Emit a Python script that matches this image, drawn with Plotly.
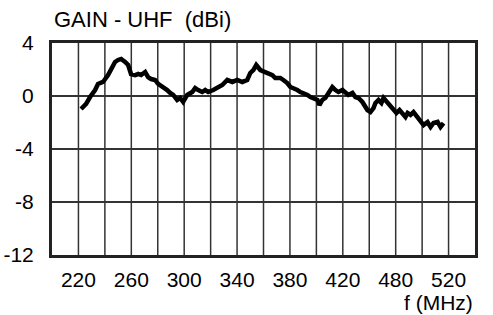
import plotly.graph_objects as go

# Data (frequency in MHz on the grid scale, gain in dBi)
freq_mhz = [222.0, 225.8, 228.8, 232.6, 234.8, 238.6, 242.4, 244.7, 247.7, 250.0,
            252.3, 255.3, 257.6, 259.8, 262.9, 265.2, 267.4, 270.5, 272.7, 275.0,
            278.0, 280.3, 284.1, 287.1, 289.4, 291.7, 294.7, 297.0, 299.2, 302.3,
            306.1, 308.3, 310.6, 313.6, 315.9, 318.2, 322.0, 325.0, 328.8, 332.6,
            336.4, 340.2, 343.9, 347.7, 350.0, 352.3, 354.5, 357.6, 361.4, 366.7,
            368.9, 372.7, 375.0, 378.0, 380.3, 382.6, 385.6, 387.9, 390.2, 393.2,
            395.5, 397.7, 400.8, 402.3, 404.5, 406.8, 409.1, 412.1, 414.4, 416.7,
            419.7, 422.0, 424.2, 427.3, 429.5, 431.8, 434.8, 438.6, 440.9, 443.2,
            444.7, 447.0, 449.2, 450.8, 453.8, 456.1, 458.3, 460.6, 462.9, 465.2,
            467.4, 469.0, 471.2, 473.5, 476.5, 478.8, 481.1, 484.1, 486.4, 488.6,
            491.7, 493.9, 496.2]
gain_dbi = [-0.98, -0.60, -0.08, 0.45, 0.91, 1.06, 1.58, 2.04, 2.57, 2.72,
            2.79, 2.57, 2.34, 1.66, 1.58, 1.66, 1.58, 1.81, 1.43, 1.28,
            1.21, 0.91, 0.68, 0.45, 0.23, 0.08, -0.30, -0.15, -0.45, 0.08,
            0.30, 0.60, 0.45, 0.30, 0.45, 0.30, 0.45, 0.60, 0.83, 1.21,
            1.06, 1.21, 1.06, 1.21, 1.74, 1.96, 2.34, 1.96, 1.81, 1.58,
            1.36, 1.36, 1.21, 0.98, 0.68, 0.60, 0.45, 0.30, 0.23, 0.08,
            -0.08, -0.15, -0.30, -0.68, -0.30, -0.15, 0.23, 0.68, 0.45, 0.30,
            0.45, 0.30, 0.08, 0.23, -0.08, -0.15, -0.45, -1.06, -1.21, -0.91,
            -0.53, -0.30, -0.53, -0.15, -0.53, -0.83, -1.06, -1.28, -1.06, -1.28,
            -1.58, -1.28, -1.43, -1.21, -1.58, -1.96, -2.19, -1.96, -2.34, -2.04,
            -1.96, -2.34, -2.04]

x_tick_vals = [220, 260, 300, 340, 380, 420, 460, 500]
x_tick_text = ["220", "260", "300", "340", "380", "420", "480", "520"]
y_tick_vals = [4, 0, -4, -8, -12]
y_tick_text = ["4", "0", "-4", "-8", "-12"]

FONT = "Liberation Sans, Arial, sans-serif"
FS = 21

fig = go.Figure()
fig.add_trace(go.Scatter(x=freq_mhz, y=gain_dbi, mode="lines",
                         line=dict(color="black", width=4.5), hoverinfo="skip"))

fig.update_layout(
    width=493, height=315,
    margin=dict(l=52, r=18, t=43, b=60),
    paper_bgcolor="white", plot_bgcolor="white",
    showlegend=False,
    font=dict(family=FONT, size=FS, color="black"),
    xaxis=dict(range=[200, 520], tickmode="array", tickvals=x_tick_vals,
               ticktext=x_tick_text, showgrid=False, zeroline=False,
               showline=True, mirror=True, linecolor="#222", linewidth=3,
               ticks="", ticklabelstandoff=4, tickfont=dict(size=FS),
               automargin=False),
    yaxis=dict(range=[-12, 4], tickmode="array", tickvals=y_tick_vals,
               ticktext=y_tick_text, showgrid=True, gridcolor="#333", gridwidth=1.5,
               zeroline=False, showline=True, mirror=True, linecolor="#222",
               linewidth=3, ticks="", ticklabelstandoff=11, tickfont=dict(size=FS),
               automargin=False),
    annotations=[
        dict(text="GAIN - UHF\u00a0 (dBi)", xref="paper", yref="paper", x=0, y=1.111,
             xanchor="left", yanchor="middle", showarrow=False,
             font=dict(family=FONT, size=22, color="black")),
        dict(text="f (MHz)", xref="paper", yref="paper", x=1, y=-0.222,
             xanchor="right", yanchor="middle", showarrow=False,
             font=dict(family=FONT, size=FS, color="black")),
    ],
)

# vertical grid every 20 MHz
for gx in range(220, 520, 20):
    fig.add_vline(x=gx, line=dict(color="#333", width=1.5), layer="below")

fig.write_html("out.html", config={"displayModeBar": False},
               post_script="document.body.style.margin='0';document.body.style.overflow='hidden';")
